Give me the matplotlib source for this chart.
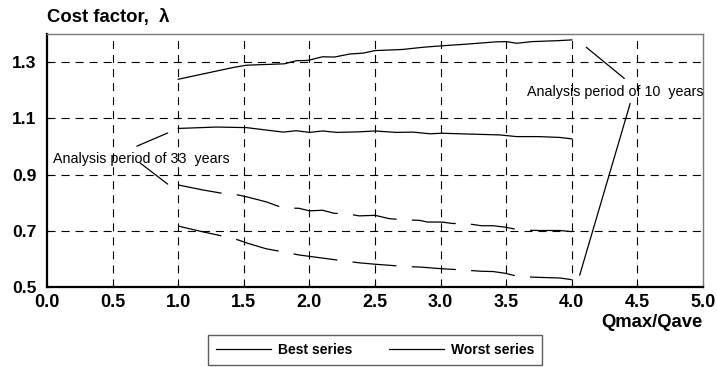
import matplotlib
matplotlib.use("Agg")
import matplotlib.pyplot as plt
from matplotlib.lines import Line2D

plt.rcParams['font.family'] = ['Liberation Sans', 'DejaVu Sans']
plt.rcParams['lines.scale_dashes'] = False

# ---- data ----
x_10_upper = [1.00, 1.42, 1.52, 1.81, 1.90, 1.99, 2.10, 2.19, 2.31, 2.41, 2.50, 2.71,
              2.87, 3.01, 3.20, 3.42, 3.50, 3.58, 3.70, 3.88, 4.00]
y_10_upper = [1.239, 1.281, 1.289, 1.294, 1.305, 1.306, 1.319, 1.318, 1.329, 1.332, 1.341, 1.345,
              1.353, 1.358, 1.364, 1.372, 1.373, 1.367, 1.373, 1.376, 1.379]

x_10_lower = [1.00, 1.29, 1.52, 1.80, 1.90, 2.00, 2.10, 2.21, 2.38, 2.50, 2.66, 2.79,
              2.92, 3.01, 3.22, 3.45, 3.58, 3.75, 3.91, 4.00]
y_10_lower = [1.064, 1.069, 1.067, 1.051, 1.056, 1.050, 1.055, 1.050, 1.052, 1.055, 1.050, 1.051,
              1.045, 1.047, 1.044, 1.041, 1.035, 1.035, 1.032, 1.027]

x_33_upper = [1.00, 1.19, 1.34, 1.46, 1.52, 1.67, 1.80, 1.92, 2.00, 2.10, 2.19, 2.26,
              2.38, 2.50, 2.61, 2.73, 2.84, 2.90, 3.01, 3.09, 3.19, 3.31, 3.40, 3.49,
              3.58, 3.65, 3.75, 3.91, 4.00]
y_33_upper = [0.863, 0.845, 0.833, 0.827, 0.821, 0.803, 0.781, 0.780, 0.771, 0.773, 0.762, 0.762,
              0.753, 0.755, 0.743, 0.739, 0.737, 0.731, 0.731, 0.726, 0.726, 0.718, 0.718, 0.713,
              0.705, 0.702, 0.701, 0.701, 0.697]

x_33_lower = [1.00, 1.06, 1.19, 1.34, 1.46, 1.52, 1.67, 1.80, 1.92, 2.00, 2.26, 2.38,
              2.50, 2.73, 2.84, 3.01, 3.19, 3.31, 3.40, 3.49, 3.58, 3.65, 3.77, 3.91, 4.00]
y_33_lower = [0.717, 0.710, 0.696, 0.681, 0.667, 0.657, 0.636, 0.625, 0.614, 0.609, 0.593, 0.586,
              0.581, 0.573, 0.571, 0.565, 0.560, 0.556, 0.555, 0.549, 0.539, 0.536, 0.534, 0.532, 0.526]

x_ticks = [0.0, 0.5, 1.0, 1.5, 2.0, 2.5, 3.0, 3.5, 4.0, 4.5, 5.0]
y_ticks = [0.5, 0.7, 0.9, 1.1, 1.3]

label_33 = "Analysis period of 33  years"
label_10 = "Analysis period of 10  years"
legend_labels = ["Best series", "Worst series"]

# leader lines: (from text, to curve)
lead_33 = [((0.685, 1.001), (0.92, 1.048)), ((0.71, 0.941), (0.92, 0.866))]
lead_10 = [((4.40, 1.242), (4.11, 1.353)), ((4.445, 1.153), (4.06, 0.542))]

# ---- figure ----
fig = plt.figure(figsize=(7.17, 3.67), dpi=100)
ax = fig.add_axes([47/717, 1-287/367, (703-47)/717, (287-34)/367])

lw = 0.9
ax.plot(x_10_upper, y_10_upper, color='black', lw=lw)
ax.plot(x_10_lower, y_10_lower, color='black', lw=lw)
dash = (0, (31.8, 11.0))
ax.plot(x_33_upper, y_33_upper, color='black', lw=lw, linestyle=dash)
ax.plot(x_33_lower, y_33_lower, color='black', lw=lw, linestyle=dash)

ax.set_xlim(0, 5)
ax.set_ylim(0.5, 1.4)
ax.set_xticks(x_ticks)
ax.set_yticks(y_ticks)
ax.set_xticklabels([f"{v:.1f}" for v in x_ticks], fontsize=13, fontweight='bold')
ax.set_yticklabels([f"{v:.1f}" for v in y_ticks], fontsize=12.6, fontweight='bold')
ax.tick_params(axis='both', direction='in', length=3, width=0.8, color='black')
ax.tick_params(axis='x', pad=5)
ax.tick_params(axis='y', pad=7.5)

grid_style = (0, (5.8, 4.3))
for xv in x_ticks[1:-1]:
    ax.axvline(xv, color='black', lw=0.8, linestyle=grid_style, zorder=0)
for yv in y_ticks[1:]:
    ax.axhline(yv, color='black', lw=0.8, linestyle=grid_style, zorder=0)

for s in ['left', 'bottom']:
    ax.spines[s].set_linewidth(1.6)
    ax.spines[s].set_color('black')
for s in ['top', 'right']:
    ax.spines[s].set_linewidth(1.0)
    ax.spines[s].set_color('#7a7a7a')

ax.text(0.0, 1.03, "Cost factor,  λ", transform=ax.transAxes, ha='left', va='bottom',
        fontsize=13.3, fontweight='bold')
ax.xaxis.set_label_text("Qmax/Qave", fontsize=13.3, fontweight='bold')
ax.xaxis.set_label_coords(1.0, -0.105)
ax.xaxis.label.set_horizontalalignment('right')

ax.text(0.045, 0.955, label_33, fontsize=10.3, ha='left', va='center')
ax.text(5.0, 1.193, label_10, fontsize=10.3, ha='right', va='center')
for a, b in lead_33 + lead_10:
    ax.annotate('', xy=b, xytext=a, arrowprops=dict(arrowstyle='-', color='black', lw=0.9,
                                                    shrinkA=0, shrinkB=0))

handles = [Line2D([], [], color='black', lw=0.9), Line2D([], [], color='black', lw=0.9)]
leg = fig.legend(handles, legend_labels, loc='center', bbox_to_anchor=(375/717, 1-350/367),
                 ncol=2, frameon=True, fancybox=False, handlelength=4.0, handletextpad=0.5,
                 columnspacing=2.6, borderpad=0.55, prop=dict(size=10, weight='bold'))
leg.get_frame().set_edgecolor('#333333')
leg.get_frame().set_linewidth(1.0)

fig.savefig("out.png", dpi=100)
